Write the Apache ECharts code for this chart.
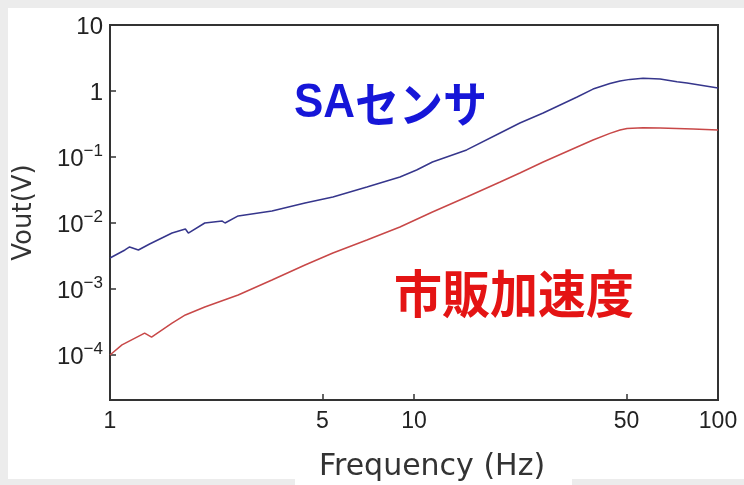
<!DOCTYPE html>
<html>
<head>
<meta charset="utf-8">
<script src="https://cdn.jsdelivr.net/npm/echarts@6/dist/echarts.min.js"></script>
<style>
html,body{margin:0;padding:0;background:#ececec;}
#c{width:744px;height:485px;}
</style>
</head>
<body>
<div id="c"></div>
<script>
// Frequency (Hz) and Vout (V)
var saFreq = [1, 1.12, 1.16, 1.24, 1.35, 1.60, 1.77, 1.81, 2.05, 2.34, 2.39, 2.64, 3.41, 4.38, 5.41, 7.00, 8.99, 10.2, 11.5, 14.9, 19.2, 22.3, 26.6, 34.4, 38.8, 44.1, 47.6, 51.3, 56.7, 64.5, 73.3, 79.1, 100];
var saVout = [0.00295, 0.0039, 0.00433, 0.0039, 0.00481, 0.00705, 0.00811, 0.00705, 0.0100, 0.0107, 0.0100, 0.0128, 0.0152, 0.0201, 0.0248, 0.0351, 0.0498, 0.0635, 0.0840, 0.128, 0.231, 0.327, 0.464, 0.811, 1.07, 1.30, 1.42, 1.50, 1.56, 1.52, 1.38, 1.32, 1.11];
var comFreq = [1, 1.095, 1.30, 1.37, 1.60, 1.77, 2.05, 2.64, 3.41, 4.38, 5.41, 7.00, 8.99, 11.5, 14.9, 19.2, 22.3, 26.6, 34.4, 38.8, 44.1, 47.6, 50.2, 56.7, 64.5, 82.8, 100];
var comVout = [0.0001, 0.000142, 0.000215, 0.000187, 0.000305, 0.000404, 0.000534, 0.000811, 0.00137, 0.00231, 0.00351, 0.00552, 0.00869, 0.0147, 0.0248, 0.0418, 0.0573, 0.0840, 0.142, 0.181, 0.228, 0.256, 0.270, 0.277, 0.275, 0.265, 0.256];
var xTickLabels = [1, 5, 10, 50, 100];
var yTickExps = [-4, -3, -2, -1, 0, 1];
var saName = 'SAセンサ';
var comName = '市販加速度';

function toPts(fs, vs) {
  return fs.map(function (f, i) { return [Math.log10(f), Math.log10(vs[i])]; });
}
var supMap = {'-1':'−1','-2':'−2','-3':'−3','-4':'−4'};

var chart = echarts.init(document.getElementById('c'), null, {renderer: 'canvas'});
chart.setOption({
  animation: false,
  backgroundColor: '#ececec',
  graphic: [
    {type: 'rect', z: -10, shape: {x: 8, y: 8, width: 736, height: 471}, style: {fill: '#ffffff'}},
    {type: 'rect', z: -10, shape: {x: 295, y: 470, width: 277, height: 15}, style: {fill: '#ffffff'}},
    {type: 'text', x: 294, y: 80, scaleY: 1.08, z: 10,
      style: {
        text: '{a|SA}{k|センサ}',
        rich: {
          a: {fill: '#1616d8', font: 'bold 44px "Liberation Sans", Arial, sans-serif'},
          k: {fill: '#1616d8', font: 'bold 44px "Noto Sans CJK JP", sans-serif'}
        }
      }},
    {type: 'text', x: 394, y: 268, scaleY: 1.06, z: 10,
      style: {text: comName, fill: '#e41414', font: 'bold 48px "Noto Sans CJK JP", sans-serif'}}
  ],
  grid: {left: 110, right: 26, top: 25, bottom: 85, outerBoundsMode: 'none', containLabel: false,
    show: true, borderColor: '#333', borderWidth: 2, backgroundColor: '#ffffff'},
  xAxis: {
    type: 'value', min: 0, max: 2,
    axisLine: {show: true, onZero: false, lineStyle: {color: '#333', width: 2}},
    splitLine: {show: false},
    axisTick: {show: true, inside: true, length: 6, lineStyle: {color: '#333', width: 1.5},
      customValues: xTickLabels.map(function (v) { return Math.log10(v); })},
    axisLabel: {margin: 10, color: '#222', fontSize: 23, fontFamily: '"Liberation Sans", Arial, sans-serif',
      customValues: xTickLabels.map(function (v) { return Math.log10(v); }),
      formatter: function (v) { return String(Math.round(Math.pow(10, v))); }},
    name: 'Frequency (Hz)', nameLocation: 'middle', nameGap: 52,
    nameTextStyle: {color: '#333', fontSize: 30, fontFamily: '"DejaVu Sans", sans-serif', padding: [0, 0, 0, 36]}
  },
  yAxis: {
    type: 'value', min: 1 - 375 / 66, max: 1,
    axisLine: {show: true, onZero: false, lineStyle: {color: '#333', width: 2}},
    splitLine: {show: false},
    axisTick: {show: true, inside: true, length: 6, lineStyle: {color: '#333', width: 1.5}, customValues: yTickExps},
    axisLabel: {margin: 7, color: '#222', customValues: yTickExps,
      formatter: function (v) {
        var e = Math.round(v);
        if (e === 1) return '{b|10}';
        if (e === 0) return '{b|1}';
        return '{b|10}{s|' + supMap[String(e)] + '}';
      },
      rich: {
        b: {fontSize: 24, color: '#222', fontFamily: '"Liberation Sans", Arial, sans-serif', lineHeight: 28, verticalAlign: 'bottom'},
        s: {fontSize: 17, color: '#222', fontFamily: '"Liberation Sans", Arial, sans-serif', lineHeight: 28, verticalAlign: 'top'}
      }
    },
    name: 'Vout(V)', nameLocation: 'middle', nameGap: 73, nameRotate: 90,
    nameTextStyle: {fontSize: 26, color: '#333', fontFamily: '"DejaVu Sans", sans-serif'}
  },
  series: [
    {type: 'line', name: saName, data: toPts(saFreq, saVout), showSymbol: false, smooth: false,
      lineStyle: {color: '#36368c', width: 1.5}, z: 3},
    {type: 'line', name: comName, data: toPts(comFreq, comVout), showSymbol: false, smooth: false,
      lineStyle: {color: '#c84848', width: 1.5}, z: 3}
  ]
});
</script>
</body>
</html>
